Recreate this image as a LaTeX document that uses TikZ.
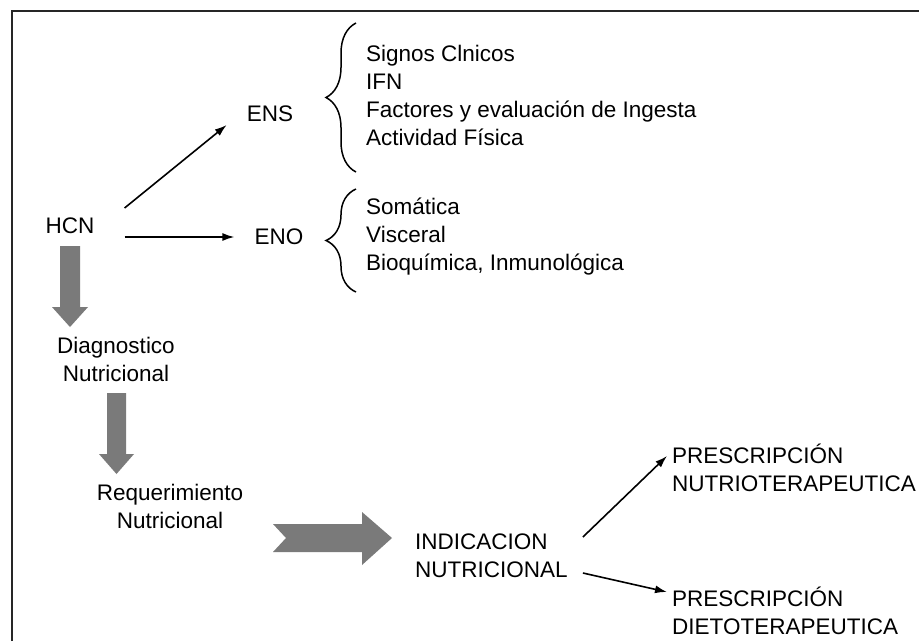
\documentclass[tikz,border=0pt]{standalone}
\usepackage{fontspec}
\setmainfont{Liberation Sans}
\usetikzlibrary{arrows.meta,decorations.pathreplacing,calc}
\begin{document}
\begin{tikzpicture}[x=1pt,y=-1pt,
  lbl/.style={inner sep=0pt,font=\fontsize{22.5}{28}\selectfont},
  arr/.style={line width=1.6pt,-{Latex[length=12pt,width=8pt]}},
  blockarrow/.style={fill=black!52,draw=none},
  bracestyle/.style={line width=1.5pt,decorate,decoration={brace,amplitude=30pt}}]
\useasboundingbox (0,0) rectangle (919,641);
\fill[white] (0,0) rectangle (919,641);
% frame
\draw[line width=1.6pt,black!85] (12,641) -- (12,11) -- (919,11);
% nodes
\node[lbl] (hcn) at (70,226) {HCN};
\node[lbl] (ens) at (270,114) {ENS};
\node[lbl] (eno) at (279,237) {ENO};
\node[lbl,anchor=west,align=left] (enslist) at (366,95) {Signos Clnicos\\IFN\\Factores y evaluación de Ingesta\\Actividad Física};
\node[lbl,anchor=west,align=left] (enolist) at (366,237) {Somática\\Visceral\\Bioquímica, Inmunológica};
\node[lbl,align=center] (diag) at (116,359) {Diagnostico\\Nutricional};
\node[lbl,align=center] (req) at (170,506) {Requerimiento\\Nutricional};
\node[lbl,anchor=west,align=left] (ind) at (415,556) {INDICACION\\NUTRICIONAL};
\node[lbl,anchor=west,align=left] (pn) at (672,468) {PRESCRIPCIÓN\\NUTRIOTERAPEUTICA};
\node[lbl,anchor=west,align=left] (pd) at (672,611) {PRESCRIPCIÓN\\DIETOTERAPEUTICA};
% braces
\draw[bracestyle] (356,172) -- (356,23);
\draw[bracestyle] (356,292) -- (356,189);
% thin arrows
\draw[arr] ([shift={(30,-18)}]hcn.east) -- ([shift={(-20,11)}]ens.west);
\draw[arr] ([shift={(30,11)}]hcn.east) -- ([shift={(-20,0)}]eno.west);
\draw[arr] ([shift={(15,-19)}]ind.east) -- ([shift={(-5,-12)}]pn.west);
\draw[arr] ([shift={(15,17)}]ind.east) -- ([shift={(-5,-19)}]pd.west);
% block arrows
\fill[blockarrow] (60,246) -- (80,246) -- (80,307) -- (88,307) -- (70,327) -- (52,307) -- (60,307) -- cycle;
\fill[blockarrow] (107,393) -- (126,393) -- (126,454) -- (134,454) -- (116.5,474) -- (99,454) -- (107,454) -- cycle;
\fill[blockarrow] (273,524) -- (362,524) -- (362,512) -- (392,538) -- (362,565) -- (362,552) -- (273,552) -- (286,538) -- cycle;
\end{tikzpicture}
\end{document}
